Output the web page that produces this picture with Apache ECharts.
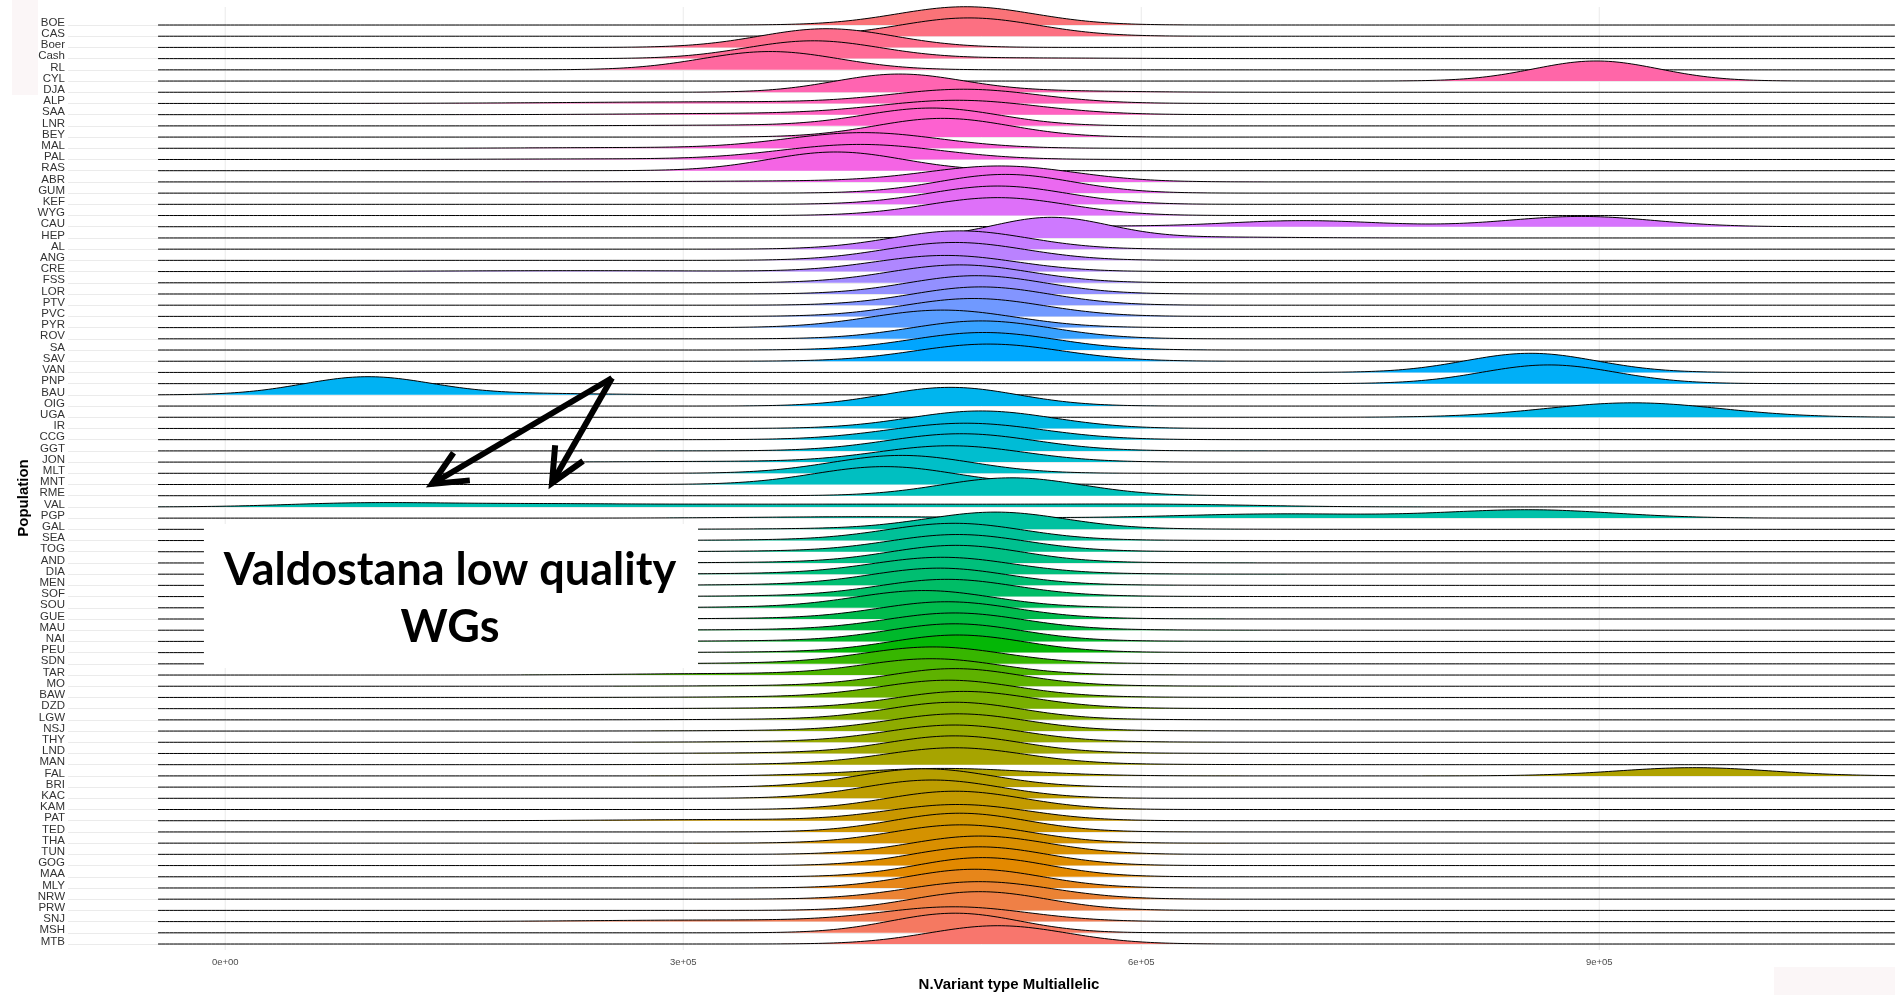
<!DOCTYPE html>
<html>
<head>
<meta charset="utf-8">
<script src="https://cdn.jsdelivr.net/npm/echarts@6/dist/echarts.min.js"></script>
<style>
  html, body { margin: 0; padding: 0; background: #ffffff; }
  #chart { width: 1895px; height: 995px; }
</style>
</head>
<body>
<div id="chart"></div>
<script>
// Populations, top row first
const populations = ['BOE','CAS','Boer','Cash','RL','CYL','DJA','ALP','SAA','LNR','BEY','MAL','PAL','RAS','ABR','GUM','KEF','WYG','CAU','HEP','AL','ANG','CRE','FSS','LOR','PTV','PVC','PYR','ROV','SA','SAV','VAN','PNP','BAU','OIG','UGA','IR','CCG','GGT','JON','MLT','MNT','RME','VAL','PGP','GAL','SEA','TOG','AND','DIA','MEN','SOF','SOU','GUE','MAU','NAI','PEU','SDN','TAR','MO','BAW','DZD','LGW','NSJ','THY','LND','MAN','FAL','BRI','KAC','KAM','PAT','TED','THA','TUN','GOG','MAA','MLY','NRW','PRW','SNJ','MSH','MTB'];

// Distribution of multiallelic variant counts per population:
// each entry lists its modes as [centre, spread, share]
const ridgeModes = [
  [[485e3,45e3,1]],                                   // BOE
  [[487e3,45e3,1]],                                   // CAS
  [[394e3,44e3,1]],                                   // Boer
  [[385e3,44e3,0.95],[520e3,60e3,0.05]],              // Cash
  [[357e3,45e3,1]],                                   // RL
  [[898e3,41e3,1]],                                   // CYL
  [[441e3,42e3,0.92],[540e3,50e3,0.08]],              // DJA
  [[485e3,48e3,0.8],[330e3,100e3,0.2]],               // ALP
  [[480e3,52e3,0.9],[340e3,70e3,0.1]],                // SAA
  [[463e3,44e3,0.95],[330e3,60e3,0.05]],              // LNR
  [[470e3,44e3,1]],                                   // BEY
  [[418e3,50e3,0.95],[260e3,60e3,0.05]],              // MAL
  [[416e3,52e3,0.95],[250e3,70e3,0.05]],              // PAL
  [[400e3,44e3,1]],                                   // RAS
  [[508e3,48e3,0.92],[380e3,70e3,0.08]],              // ABR
  [[511e3,44e3,1]],                                   // GUM
  [[506e3,45e3,1]],                                   // KEF
  [[506e3,46e3,1]],                                   // WYG
  [[706e3,50e3,0.37],[888e3,48e3,0.6],[560e3,40e3,0.03]], // CAU
  [[541e3,38e3,0.95],[650e3,50e3,0.05]],              // HEP
  [[481e3,45e3,1]],                                   // AL
  [[478e3,46e3,1]],                                   // ANG
  [[472e3,46e3,0.9],[230e3,90e3,0.1]],                // CRE
  [[481e3,46e3,1]],                                   // FSS
  [[492e3,45e3,1]],                                   // LOR
  [[495e3,45e3,1]],                                   // PTV
  [[490e3,46e3,1]],                                   // PVC
  [[470e3,47e3,1]],                                   // PYR
  [[495e3,46e3,1]],                                   // ROV
  [[497e3,47e3,1]],                                   // SA
  [[500e3,48e3,1]],                                   // SAV
  [[855e3,43e3,1]],                                   // VAN
  [[867e3,44e3,1]],                                   // PNP
  [[93e3,42e3,0.92],[200e3,50e3,0.08]],               // BAU
  [[475e3,44e3,1]],                                   // OIG
  [[922e3,57e3,1]],                                   // UGA
  [[495e3,47e3,1]],                                   // IR
  [[485e3,50e3,1]],                                   // CCG
  [[482e3,48e3,1]],                                   // GGT
  [[475e3,48e3,0.95],[330e3,60e3,0.05]],              // JON
  [[443e3,46e3,1]],                                   // MLT
  [[432e3,46e3,1]],                                   // MNT
  [[515e3,46e3,1]],                                   // RME
  [[70e3,45e3,0.1],[115e3,50e3,0.16],[210e3,55e3,0.17],[320e3,60e3,0.15],[430e3,60e3,0.15],[540e3,60e3,0.14],[630e3,55e3,0.13]], // VAL
  [[420e3,70e3,0.12],[690e3,65e3,0.33],[855e3,55e3,0.55]], // PGP
  [[505e3,44e3,0.85],[485e3,90e3,0.15]],              // GAL
  [[478e3,44e3,0.85],[458e3,90e3,0.15]],              // SEA
  [[480e3,44e3,0.85],[460e3,90e3,0.15]],              // TOG
  [[479e3,43e3,0.85],[459e3,90e3,0.15]],              // AND
  [[470e3,45e3,0.85],[450e3,90e3,0.15]],              // DIA
  [[468e3,44e3,0.85],[448e3,90e3,0.15]],              // MEN
  [[473e3,44e3,0.85],[453e3,90e3,0.15]],              // SOF
  [[458e3,44e3,0.85],[438e3,90e3,0.15]],              // SOU
  [[473e3,44e3,0.85],[453e3,90e3,0.15]],              // GUE
  [[478e3,44e3,0.85],[458e3,90e3,0.15]],              // MAU
  [[478e3,43e3,0.85],[458e3,90e3,0.15]],              // NAI
  [[480e3,43e3,0.85],[460e3,90e3,0.15]],              // PEU
  [[464e3,45e3,0.85],[444e3,90e3,0.15]],              // SDN
  [[463e3,44e3,0.82],[320e3,60e3,0.08],[443e3,90e3,0.1]], // TAR
  [[478e3,43e3,0.85],[458e3,90e3,0.15]],              // MO
  [[474e3,44e3,0.85],[454e3,90e3,0.15]],              // BAW
  [[484e3,44e3,0.85],[464e3,90e3,0.15]],              // DZD
  [[478e3,43e3,0.85],[458e3,90e3,0.15]],              // LGW
  [[480e3,44e3,0.85],[460e3,90e3,0.15]],              // NSJ
  [[478e3,44e3,0.85],[458e3,90e3,0.15]],              // THY
  [[478e3,43e3,0.85],[458e3,90e3,0.15]],              // LND
  [[478e3,45e3,0.85],[470e3,90e3,0.15]],              // MAN
  [[470e3,55e3,0.5],[962e3,50e3,0.5]],                // FAL
  [[458e3,45e3,1]],                                   // BRI
  [[463e3,45e3,1]],                                   // KAC
  [[478e3,45e3,1]],                                   // KAM
  [[480e3,46e3,0.9],[330e3,70e3,0.1]],                // PAT
  [[481e3,44e3,1]],                                   // TED
  [[482e3,45e3,1]],                                   // THA
  [[494e3,45e3,1]],                                   // TUN
  [[494e3,44e3,1]],                                   // GOG
  [[496e3,43e3,1]],                                   // MAA
  [[491e3,44e3,1]],                                   // MLY
  [[494e3,47e3,1]],                                   // NRW
  [[494e3,44e3,1]],                                   // PRW
  [[478e3,48e3,0.85],[320e3,80e3,0.15]],              // SNJ
  [[478e3,42e3,1]],                                   // MSH
  [[506e3,45e3,1]]                                    // MTB
];

// Range over which the densities are evaluated
const densityRange = [-44000, 1140000];
const xTicks = [0, 300000, 600000, 900000];
const xTickLabels = ['0e+00', '3e+05', '6e+05', '9e+05'];

// Height scale: rows of height per unit of density
const ridgeScale = 1.84e5;

// ggplot-style hue palette (HCL, c = 100, l = 65)
function hclColor(h, c, l) {
  const hr = h * Math.PI / 180;
  const U = c * Math.cos(hr), V = c * Math.sin(hr);
  const Xn = 95.047, Yn = 100, Zn = 108.883;
  const den = Xn + 15 * Yn + 3 * Zn;
  const un = 4 * Xn / den, vn = 9 * Yn / den;
  const Y = l > 8 ? Yn * Math.pow((l + 16) / 116, 3) : Yn * l / 903.3;
  const up = U / (13 * l) + un, vp = V / (13 * l) + vn;
  const X = Y * 9 * up / (4 * vp);
  const Z = Y * (12 - 3 * up - 20 * vp) / (4 * vp);
  const x = X / 100, y = Y / 100, z = Z / 100;
  let r = 3.240479 * x - 1.537150 * y - 0.498535 * z;
  let g = -0.969256 * x + 1.875992 * y + 0.041556 * z;
  let b = 0.055648 * x - 0.204043 * y + 1.057311 * z;
  const gam = v => v <= 0.0031308 ? 12.92 * v : 1.055 * Math.pow(v, 1 / 2.4) - 0.055;
  const to255 = v => Math.round(Math.min(1, Math.max(0, gam(v))) * 255);
  return 'rgb(' + to255(r) + ',' + to255(g) + ',' + to255(b) + ')';
}
const nPop = populations.length;
// the bottom row takes the first hue
const ridgeColors = populations.map((p, i) => hclColor(15 + 360 * (nPop - 1 - i) / nPop, 100, 65));

function densityAt(modes, x) {
  let d = 0;
  for (const m of modes) {
    const z = (x - m[0]) / m[1];
    d += m[2] * Math.exp(-0.5 * z * z) / (m[1] * Math.sqrt(2 * Math.PI));
  }
  return d;
}

function renderRidge(params, api) {
  const idx = api.value(1);
  const modes = ridgeModes[idx];
  const rowPx = Math.abs(api.coord([0, 1])[1] - api.coord([0, 0])[1]);
  const step = 2500;
  const curve = [];
  let baseY = 0;
  for (let x = densityRange[0]; x <= densityRange[1]; x += step) {
    const p = api.coord([x, idx]);
    baseY = p[1];
    const h = densityAt(modes, x) * ridgeScale * rowPx;
    curve.push([p[0], p[1] - h]);
  }
  const fillPts = curve.slice();
  fillPts.push([curve[curve.length - 1][0], baseY]);
  fillPts.push([curve[0][0], baseY]);
  return {
    type: 'group',
    children: [
      { type: 'polygon', z2: idx * 2, shape: { points: fillPts },
        style: { fill: ridgeColors[idx], stroke: null } },
      { type: 'polyline', z2: idx * 2 + 1, shape: { points: curve },
        style: { stroke: '#000000', lineWidth: 1, fill: null } }
    ]
  };
}

function renderGridline(params, api) {
  const v = api.value(0);
  const top = api.coord([v, 0]);
  const bottom = api.coord([v, nPop - 1]);
  return {
    type: 'line',
    shape: { x1: top[0], y1: top[1] - 18, x2: top[0], y2: bottom[1] + 6 },
    style: { stroke: '#ebebeb', lineWidth: 1 }
  };
}

// arrow shaft plus open head
function arrow(from, to) {
  const ang = Math.atan2(from[1] - to[1], from[0] - to[0]);
  const len = 38, spread = 25 * Math.PI / 180;
  const a1 = [to[0] + len * Math.cos(ang + spread), to[1] + len * Math.sin(ang + spread)];
  const a2 = [to[0] + len * Math.cos(ang - spread), to[1] + len * Math.sin(ang - spread)];
  return [
    { type: 'polyline', z: 100, shape: { points: [from, to] },
      style: { stroke: '#000', lineWidth: 6, fill: null, lineCap: 'butt' } },
    { type: 'polyline', z: 100, shape: { points: [a1, to, a2] },
      style: { stroke: '#000', lineWidth: 6, fill: null, lineCap: 'butt', lineJoin: 'miter' } }
  ];
}

const chart = echarts.init(document.getElementById('chart'), null, { renderer: 'canvas' });

chart.setOption({
  animation: false,
  backgroundColor: '#ffffff',
  grid: { left: 68, right: 0, top: 25, bottom: 51, containLabel: false, outerBoundsMode: 'none' },
  xAxis: {
    type: 'value',
    min: -103000,
    max: 1093700,
    axisLine: { show: false },
    axisTick: { show: false },
    splitLine: { show: false },
    axisLabel: {
      customValues: xTicks,
      formatter: v => xTickLabels[xTicks.indexOf(v)] || '',
      fontFamily: 'Liberation Sans',
      fontSize: 9.5,
      color: '#4d4d4d',
      margin: 13
    }
  },
  yAxis: {
    type: 'category',
    data: populations,
    inverse: true,
    boundaryGap: false,
    axisLine: { show: false },
    axisTick: { show: false },
    axisLabel: {
      interval: 0,
      fontFamily: 'Liberation Sans',
      fontSize: 11.5,
      color: '#333333',
      margin: 3,
      verticalAlign: 'bottom',
      lineHeight: 5
    },
    splitLine: { show: true, interval: 0, lineStyle: { color: '#ebebeb', width: 1 } }
  },
  series: [
    {
      type: 'custom',
      name: 'grid',
      z: 1,
      silent: true,
      renderItem: renderGridline,
      data: xTicks.map(v => [v, 0]),
      encode: { x: 0, y: 1 }
    },
    {
      type: 'custom',
      name: 'ridges',
      z: 2,
      silent: true,
      clip: false,
      renderItem: renderRidge,
      data: populations.map((p, i) => [0, i]),
      encode: { x: 0, y: 1 }
    }
  ],
  graphic: [
    { type: 'rect', z: 90, shape: { x: 12, y: 0, width: 26, height: 95 }, style: { fill: '#fbf6f7' } },
    { type: 'rect', z: 90, shape: { x: 1774, y: 967, width: 121, height: 28 }, style: { fill: '#fbf6f7' } },
    { type: 'text', z: 100, x: 24, y: 498, rotation: Math.PI / 2,
      style: { text: 'Population', fontFamily: 'Liberation Sans', fontWeight: 'bold', fontSize: 15,
               fill: '#000', align: 'center', verticalAlign: 'middle' } },
    { type: 'text', z: 100, x: 1009, y: 985,
      style: { text: 'N.Variant type Multiallelic', fontFamily: 'Liberation Sans', fontWeight: 'bold', fontSize: 15,
               fill: '#000', align: 'center', verticalAlign: 'middle' } },
    { type: 'rect', z: 95, shape: { x: 204, y: 524, width: 494, height: 144 }, style: { fill: '#ffffff' } },
    { type: 'text', z: 100, x: 450, y: 570,
      style: { text: 'Valdostana low quality', fontFamily: 'Lato', fontWeight: 'bold', fontSize: 45,
               fill: '#000', align: 'center', verticalAlign: 'middle' } },
    { type: 'text', z: 100, x: 450, y: 627,
      style: { text: 'WGs', fontFamily: 'Lato', fontWeight: 'bold', fontSize: 45,
               fill: '#000', align: 'center', verticalAlign: 'middle' } }
  ].concat(arrow([612, 378], [432, 484]), arrow([612, 378], [552, 483]))
});
</script>
</body>
</html>
